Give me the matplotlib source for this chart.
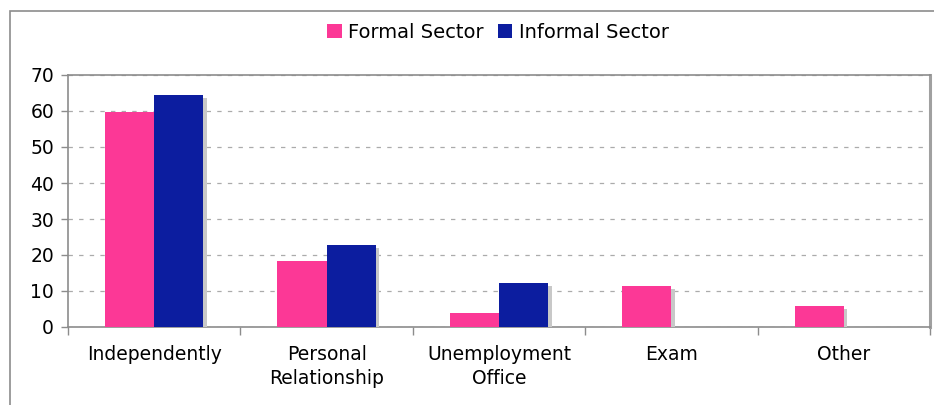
import matplotlib.pyplot as plt
import matplotlib.patheffects as pe
from matplotlib.patches import Rectangle, Patch
import numpy as np

# Data
categories = ['Independently', 'Personal\nRelationship', 'Unemployment\nOffice', 'Exam', 'Other']
formal_sector = [59.8, 18.3, 4.0, 11.4, 5.8]
informal_sector = [64.4, 22.8, 12.3, 0, 0]
y_ticks = [0, 10, 20, 30, 40, 50, 60, 70]

pink = '#FC3896'
blue = '#0C1D9F'
edge_gray = '#8c8c8c'

plt.rcParams['font.family'] = ['DejaVu Sans']

fig = plt.figure(figsize=(9.34, 4.05), dpi=100)
ax = fig.add_axes([68 / 934, 1 - 327 / 405, (930 - 68) / 934, (327 - 75) / 405])

# outer frame of the chart (cut off on the right and bottom)
fig.patches.append(Rectangle((10 / 934, -0.05), 1.05, 1 - 11 / 405 + 0.05,
                             transform=fig.transFigure, fill=False,
                             edgecolor=edge_gray, linewidth=1.2))

x = np.arange(len(categories)) + 0.5
w = 0.285
shadow = [pe.SimplePatchShadow(offset=(2.5, -2.2), shadow_rgbFace='#c8c8c8', alpha=1.0), pe.Normal()]

b1 = ax.bar(x - w / 2, formal_sector, w, color=pink, zorder=3)
b2 = ax.bar(x + w / 2, informal_sector, w, color=blue, zorder=3)
for rect in list(b1) + list(b2):
    if rect.get_height() > 0:
        rect.set_path_effects(shadow)

ax.set_xlim(0, len(categories))
ax.set_ylim(0, 70)
ax.set_yticks(y_ticks)
ax.set_xticks(np.arange(len(categories) + 1))
ax.set_xticklabels([])
ax.set_xticks(x, minor=True)
ax.set_xticklabels(categories, minor=True, fontsize=13.5, linespacing=1.3, va='top')
ax.tick_params(axis='x', which='minor', length=0, pad=13)
ax.tick_params(axis='x', which='major', length=6, color=edge_gray, width=1)
ax.tick_params(axis='y', length=5, color=edge_gray, width=1, labelsize=13.5, pad=5)

ax.yaxis.grid(True, linestyle=(0, (3.5, 5)), color='#ababab', linewidth=0.9, zorder=0)
ax.set_axisbelow(True)

for s in ['left', 'bottom', 'top']:
    ax.spines[s].set_color(edge_gray)
    ax.spines[s].set_linewidth(1.2)
ax.spines['right'].set_color('#a0a0a0')
ax.spines['right'].set_linewidth(2.2)

handles = [Patch(facecolor=pink, label='Formal Sector'),
           Patch(facecolor=blue, label='Informal Sector')]
fig.legend(handles=handles, loc='center', bbox_to_anchor=(498 / 934, 1 - 32 / 405),
           ncol=2, frameon=False, fontsize=14, handlelength=0.75, handleheight=0.75,
           handletextpad=0.35, columnspacing=0.7)

fig.savefig('out.png', dpi=100)
